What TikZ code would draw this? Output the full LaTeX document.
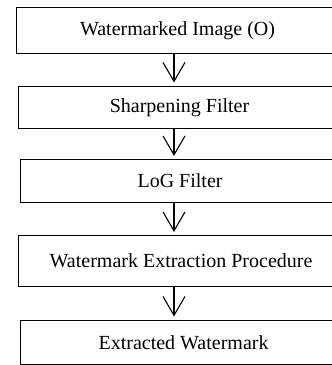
\documentclass[tikz,border=0pt]{standalone}
\usepackage{fontspec}
\setmainfont{Liberation Serif}
\usetikzlibrary{arrows.meta}
\begin{document}
\begin{tikzpicture}[x=1pt,y=1pt,
  stepbox/.style={draw, line width=1.1pt, rectangle, inner sep=0pt, anchor=north west,
    font=\fontsize{20}{24}\selectfont},
  arr/.style={line width=1.1pt, -{Straight Barb[length=19pt,width=22pt,line width=1.1pt]}}]
\useasboundingbox (0,0) rectangle (332,-365);
\clip (0,0) rectangle (332,-365);
\fill[white] (0,0) rectangle (332,-365);
\node[stepbox, minimum width=322pt, minimum height=46pt] (b1) at (16,-7) {Watermarked Image (O)};
\node[stepbox, minimum width=322pt, minimum height=42.5pt] (b2) at (18,-85.5) {Sharpening Filter};
\node[stepbox, minimum width=320pt, minimum height=43pt] (b3) at (19.5,-159) {LoG Filter};
\node[stepbox, minimum width=325pt, minimum height=51pt] (b4) at (18,-235) {Watermark Extraction Procedure};
\node[stepbox, minimum width=326pt, minimum height=44.5pt] (b5) at (20,-319.5) {Extracted Watermark};
\coordinate (ax) at (174,0);
\draw[arr] (b1.south -| ax) -- ([yshift=3pt]b2.north -| ax);
\draw[arr] (b2.south -| ax) -- ([yshift=3pt]b3.north -| ax);
\draw[arr] (b3.south -| ax) -- ([yshift=3pt]b4.north -| ax);
\draw[arr] (b4.south -| ax) -- ([yshift=3pt]b5.north -| ax);
\end{tikzpicture}
\end{document}
